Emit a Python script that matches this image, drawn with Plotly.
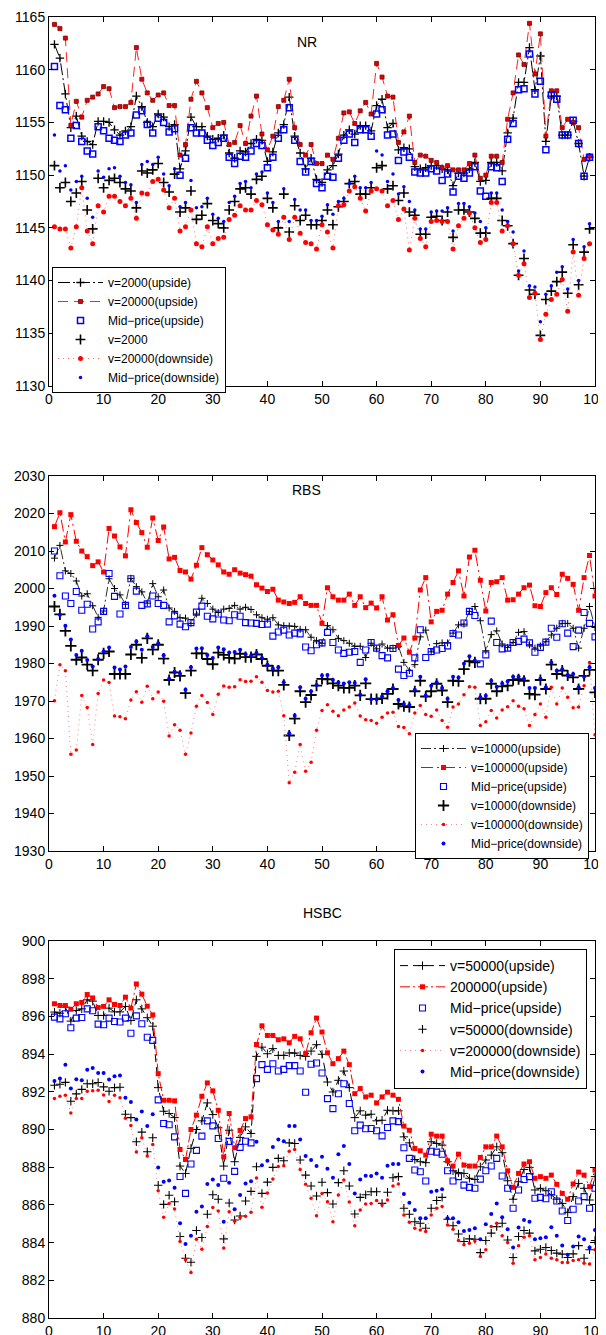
import plotly.graph_objects as go

# page body has an 8px default margin: the figure is sized/placed to compensate
OFF = 8
W, H = 606 - OFF, 1335 - OFF

# ---------------- NR ----------------
nr_x = list(range(1, 100))
nr_up_2000 = [1162.4, 1161.1, 1157.7, 1154.5, 1155.6, 1153.7, 1153.2, 1152.9, 1155.1, 1155.1,
              1155.0, 1154.3, 1153.8, 1154.2, 1154.6, 1157.5, 1156.5, 1155.0, 1154.6, 1155.8,
              1155.5, 1154.6, 1154.8, 1150.6, 1152.3, 1155.5, 1154.6, 1154.6, 1153.7, 1153.4,
              1153.5, 1153.8, 1152.1, 1151.6, 1152.3, 1152.2, 1153.0, 1153.4, 1153.3, 1151.3,
              1152.2, 1154.0, 1154.8, 1157.4, 1153.7, 1152.1, 1150.6, 1151.6, 1149.6, 1149.3,
              1150.5, 1150.9, 1152.0, 1153.8, 1154.3, 1153.9, 1154.7, 1154.7, 1154.2, 1156.6,
              1157.2, 1154.5, 1154.9, 1152.4, 1152.6, 1152.5, 1150.8, 1150.6, 1150.7, 1150.9,
              1150.9, 1150.6, 1150.5, 1149.0, 1150.2, 1150.2, 1150.6, 1151.2, 1149.4, 1149.5,
              1151.2, 1151.2, 1150.4, 1154.0, 1155.4, 1158.8, 1158.8, 1162.1, 1158.1, 1161.3,
              1153.2, 1157.5, 1157.5, 1153.8, 1153.8, 1155.1, 1153.0, 1149.9, 1151.7]
nr_up_20000 = [1164.3, 1163.9, 1163.0, 1154.7, 1157.0, 1155.5, 1157.1, 1157.4, 1157.7, 1158.4,
               1158.2, 1156.4, 1156.5, 1156.5, 1156.9, 1162.1, 1159.1, 1157.8, 1157.1, 1157.6,
               1157.8, 1156.6, 1156.6, 1151.9, 1152.9, 1157.2, 1158.9, 1157.8, 1156.4, 1154.5,
               1154.9, 1155.0, 1152.9, 1153.1, 1154.7, 1153.0, 1155.6, 1157.5, 1153.9, 1152.4,
               1153.7, 1156.5, 1157.1, 1159.1, 1154.5, 1152.9, 1151.9, 1152.9, 1151.1, 1151.1,
               1151.9, 1151.5, 1153.5, 1155.9, 1156.0, 1154.9, 1156.1, 1156.9, 1155.8, 1160.6,
               1159.3, 1157.5, 1157.4, 1153.1, 1154.1, 1155.6, 1151.2, 1151.9, 1151.8, 1151.4,
               1151.2, 1150.7, 1150.9, 1150.5, 1150.5, 1150.5, 1151.1, 1151.9, 1149.7, 1150.0,
               1151.8, 1151.8, 1151.2, 1155.3, 1157.8, 1161.4, 1160.5, 1164.4, 1159.6, 1163.4,
               1153.7, 1158.0, 1158.0, 1154.5, 1155.3, 1155.0, 1154.5, 1151.5, 1151.8]
nr_mid_up = [1160.3, 1156.6, 1156.2, 1153.5, 1154.7, 1153.2, 1152.3, 1152.0, 1154.6, 1154.2,
             1153.5, 1153.3, 1153.2, 1153.8, 1154.0, 1155.7, 1156.1, 1154.8, 1154.0, 1155.4,
             1155.0, 1154.1, 1154.4, 1150.0, 1151.6, 1154.5, 1154.0, 1154.0, 1153.3, 1152.8,
             1153.1, 1153.5, 1151.7, 1151.1, 1151.8, 1151.7, 1152.3, 1153.0, 1152.8, 1150.7,
             1151.7, 1153.5, 1154.3, 1156.4, 1153.3, 1151.3, 1150.3, 1151.3, 1149.2, 1148.8,
             1149.9, 1149.8, 1151.6, 1153.3, 1153.9, 1153.1, 1154.3, 1154.3, 1153.7, 1155.8,
             1156.2, 1153.8, 1153.9, 1151.4, 1152.2, 1151.7, 1150.3, 1150.2, 1150.2, 1150.6,
             1150.4, 1149.5, 1150.1, 1148.4, 1149.9, 1149.7, 1150.2, 1150.8, 1148.5, 1148.0,
             1150.8, 1150.7, 1149.4, 1153.4, 1154.9, 1158.1, 1158.2, 1161.5, 1157.7, 1158.9,
             1152.4, 1157.6, 1157.2, 1153.8, 1153.8, 1155.2, 1153.0, 1149.9, 1151.7]
nr_dn_2000 = [1150.9, 1148.8, 1149.3, 1147.5, 1148.3, 1149.4, 1146.7, 1144.9, 1149.7, 1148.8,
              1149.5, 1149.7, 1149.3, 1148.7, 1148.5, 1146.9, 1150.4, 1150.2, 1150.5, 1151.1,
              1149.3, 1148.4, 1150.1, 1146.5, 1146.9, 1148.5, 1145.8, 1146.2, 1147.3, 1145.7,
              1145.4, 1145.0, 1146.7, 1147.5, 1148.7, 1148.8, 1148.2, 1149.6, 1149.9, 1147.8,
              1146.9, 1145.0, 1148.2, 1144.6, 1147.1, 1145.7, 1146.2, 1145.3, 1145.3, 1145.7,
              1146.7, 1145.3, 1147.0, 1147.5, 1149.2, 1149.4, 1148.2, 1148.2, 1148.8, 1150.7,
              1150.9, 1148.7, 1149.0, 1147.6, 1148.3, 1146.5, 1146.2, 1144.4, 1144.4, 1146.0,
              1146.1, 1145.7, 1146.5, 1144.1, 1146.7, 1146.7, 1146.5, 1145.9, 1144.5, 1144.5,
              1147.8, 1147.8, 1145.7, 1145.2, 1143.5, 1140.5, 1142.1, 1139.1, 1138.7, 1134.8,
              1138.2, 1139.0, 1139.9, 1140.8, 1138.8, 1143.4, 1139.6, 1142.7, 1144.9]
nr_dn_20000 = [1145.1, 1144.9, 1144.9, 1143.1, 1145.1, 1148.8, 1144.7, 1143.5, 1147.1, 1146.5,
               1148.0, 1148.0, 1147.5, 1147.1, 1147.8, 1145.9, 1148.3, 1148.2, 1149.4, 1149.6,
               1148.6, 1146.9, 1147.8, 1144.7, 1145.1, 1146.7, 1143.5, 1143.2, 1145.1, 1143.5,
               1144.0, 1144.1, 1145.8, 1146.2, 1147.1, 1146.7, 1146.7, 1147.6, 1147.2, 1145.3,
               1144.8, 1144.4, 1146.0, 1143.9, 1146.0, 1144.5, 1143.6, 1143.5, 1143.0, 1145.3,
               1144.6, 1143.1, 1147.1, 1147.2, 1148.5, 1148.9, 1147.8, 1146.6, 1148.5, 1148.7,
               1148.5, 1147.1, 1147.6, 1145.8, 1146.8, 1142.9, 1145.9, 1144.0, 1143.2, 1145.6,
               1145.7, 1145.6, 1145.6, 1143.0, 1145.2, 1145.9, 1146.4, 1145.0, 1143.6, 1143.9,
               1147.4, 1147.4, 1144.7, 1145.2, 1143.5, 1140.5, 1141.6, 1138.4, 1138.8, 1134.4,
               1136.8, 1138.2, 1138.7, 1140.1, 1137.1, 1142.7, 1138.6, 1142.1, 1143.5]
nr_mid_dn = [1153.8, 1150.4, 1150.9, 1148.6, 1149.4, 1149.9, 1147.8, 1146.0, 1150.4, 1149.8,
             1150.6, 1150.7, 1149.9, 1149.3, 1149.1, 1147.4, 1151.0, 1151.3, 1151.0, 1151.7,
             1150.1, 1149.0, 1150.6, 1147.0, 1147.4, 1149.5, 1146.9, 1147.0, 1147.8, 1146.3,
             1145.9, 1145.6, 1147.4, 1148.0, 1149.2, 1149.4, 1148.8, 1150.1, 1150.3, 1148.3,
             1147.4, 1145.6, 1148.7, 1145.6, 1147.7, 1146.7, 1146.7, 1145.7, 1145.7, 1146.1,
             1147.2, 1146.3, 1147.5, 1147.8, 1149.2, 1149.9, 1148.8, 1148.8, 1149.3, 1152.3,
             1151.9, 1149.4, 1150.1, 1148.2, 1148.9, 1147.5, 1146.7, 1144.9, 1144.9, 1146.5,
             1146.6, 1146.6, 1146.9, 1144.7, 1147.3, 1147.3, 1147.0, 1146.4, 1145.6, 1145.0,
             1148.3, 1148.3, 1146.7, 1145.6, 1144.6, 1140.9, 1142.8, 1139.5, 1139.4, 1136.1,
             1138.7, 1139.5, 1140.8, 1141.3, 1139.2, 1143.9, 1140.0, 1143.2, 1145.4]

# ---------------- RBS ----------------
rbs_x = list(range(1, 101))
rbs_up_10000 = [2008.1, 2011.5, 2004.7, 2004.0, 2002.0, 1998.0, 1998.6, 1995.4, 1992.3, 1994.0,
                2002.6, 2000.0, 1998.3, 1995.8, 2002.7, 2000.5, 1999.1, 1996.1, 2001.3, 1997.8,
                1999.6, 1994.8, 1993.9, 1992.2, 1992.1, 1990.7, 1993.2, 1997.4, 1996.0, 1994.5,
                1993.6, 1994.5, 1994.7, 1995.5, 1994.5, 1995.0, 1994.4, 1993.0, 1992.2, 1991.8,
                1992.2, 1990.3, 1990.1, 1990.0, 1989.9, 1989.1, 1989.0, 1987.0, 1986.1, 1985.4,
                1990.1, 1989.0, 1986.7, 1986.1, 1985.4, 1984.6, 1984.6, 1981.6, 1985.4, 1983.9,
                1985.2, 1984.1, 1984.1, 1984.6, 1980.3, 1978.1, 1979.7, 1987.1, 1988.9, 1983.1,
                1985.3, 1985.5, 1985.5, 1988.1, 1990.3, 1990.5, 1993.9, 1995.2, 1991.4, 1983.4,
                1987.7, 1988.7, 1985.2, 1984.3, 1985.6, 1988.3, 1988.5, 1985.0, 1984.1, 1984.7,
                1985.8, 1987.6, 1989.4, 1990.7, 1990.7, 1989.4, 1984.1, 1989.4, 1995.2, 1989.6]
rbs_up_100000 = [2016.5, 2020.2, 2012.4, 2019.7, 2012.6, 2010.0, 2008.5, 2006.1, 2007.1, 2004.4,
                 2016.0, 2014.0, 2011.1, 2008.7, 2021.0, 2017.6, 2014.9, 2011.0, 2018.8, 2012.8,
                 2016.4, 2007.9, 2008.3, 2004.8, 2004.4, 2002.5, 2006.2, 2010.9, 2009.0, 2007.6,
                 2006.3, 2004.4, 2003.8, 2005.0, 2004.1, 2003.7, 2003.3, 2001.0, 2000.1, 1999.2,
                 1999.8, 1996.9, 1996.4, 1996.0, 1996.3, 1997.8, 1996.0, 1995.5, 1995.5, 1990.7,
                 2000.2, 1997.8, 1996.9, 1996.9, 1998.5, 1995.5, 1997.8, 1994.9, 1996.1, 1994.8,
                 1997.8, 1991.6, 1993.0, 1984.8, 1986.8, 1983.0, 1986.8, 1999.6, 2002.9, 1991.1,
                 1993.9, 1994.2, 1998.5, 2001.6, 2004.7, 1998.0, 2008.4, 2010.2, 2002.2, 1994.0,
                 2001.6, 2001.8, 2002.9, 1996.9, 1997.0, 1998.5, 2000.2, 2000.9, 1995.4, 1995.2,
                 1998.9, 2000.2, 1998.4, 2003.8, 2002.7, 2001.1, 1994.2, 2002.9, 2008.8, 1998.0]
rbs_mid_up = [2010.0, 2003.4, 1998.0, 1996.0, 1999.2, 1994.2, 1995.8, 1989.2, 1991.1, 1993.9,
              2004.0, 1997.9, 1993.2, 1995.5, 2002.6, 1999.3, 1995.5, 1995.9, 1998.0, 1996.0,
              1995.5, 1991.1, 1992.7, 1990.5, 1989.8, 1990.9, 1993.7, 1995.3, 1992.6, 1991.9,
              1993.2, 1991.6, 1991.4, 1993.0, 1992.6, 1990.9, 1990.8, 1990.7, 1990.4, 1990.5,
              1987.3, 1988.4, 1988.9, 1987.6, 1988.1, 1987.9, 1984.4, 1983.4, 1985.0, 1985.5,
              1988.3, 1985.6, 1983.6, 1982.7, 1983.0, 1983.2, 1980.3, 1983.6, 1985.6, 1984.1,
              1982.1, 1981.5, 1984.0, 1978.5, 1976.8, 1977.4, 1981.5, 1989.0, 1981.6, 1983.2,
              1983.6, 1984.0, 1984.7, 1988.0, 1987.6, 1990.8, 1993.9, 1992.8, 1979.9, 1982.3,
              1991.3, 1985.6, 1983.9, 1984.1, 1985.6, 1985.9, 1986.5, 1985.5, 1983.0, 1984.3,
              1985.7, 1989.4, 1987.0, 1990.6, 1988.1, 1984.5, 1988.9, 1993.6, 1990.7, 1987.1]
rbs_dn_10000 = [1995.2, 1993.1, 1988.7, 1984.7, 1981.0, 1981.6, 1979.7, 1978.1, 1981.0, 1982.7,
                1983.2, 1977.2, 1977.2, 1977.2, 1982.4, 1985.0, 1981.5, 1986.7, 1983.7, 1985.0,
                1981.3, 1975.6, 1977.6, 1976.7, 1972.1, 1978.1, 1982.7, 1982.7, 1981.2, 1979.8,
                1982.9, 1982.3, 1981.5, 1981.3, 1982.6, 1981.7, 1981.7, 1982.4, 1981.2, 1979.4,
                1978.1, 1978.1, 1974.3, 1960.8, 1965.3, 1972.6, 1969.7, 1971.6, 1974.1, 1975.9,
                1975.8, 1974.7, 1974.1, 1973.5, 1973.5, 1974.1, 1971.5, 1974.7, 1970.5, 1970.5,
                1970.7, 1971.9, 1973.2, 1969.2, 1968.6, 1968.4, 1972.6, 1975.4, 1971.2, 1972.6,
                1974.6, 1972.8, 1969.7, 1975.4, 1975.3, 1978.5, 1980.6, 1980.3, 1970.6, 1970.6,
                1974.6, 1972.6, 1973.9, 1974.1, 1975.6, 1975.8, 1975.4, 1971.9, 1971.7, 1975.6,
                1973.2, 1979.7, 1977.2, 1978.1, 1976.8, 1976.3, 1973.2, 1976.7, 1978.3, 1972.3]
rbs_dn_100000 = [1970.1, 1979.7, 1978.1, 1955.8, 1956.9, 1971.5, 1968.3, 1958.4, 1972.0, 1975.6,
                 1974.9, 1966.0, 1965.8, 1965.3, 1970.3, 1972.5, 1969.7, 1973.9, 1970.6, 1972.4,
                 1969.9, 1960.7, 1963.7, 1962.2, 1955.8, 1961.5, 1968.6, 1971.5, 1969.6, 1966.4,
                 1971.8, 1974.0, 1973.7, 1973.8, 1975.7, 1975.2, 1975.3, 1976.5, 1975.0, 1972.8,
                 1972.4, 1972.6, 1966.1, 1948.2, 1951.0, 1958.4, 1951.3, 1953.7, 1962.2, 1967.5,
                 1969.0, 1967.3, 1966.1, 1967.6, 1968.4, 1969.5, 1966.0, 1965.0, 1964.8, 1964.1,
                 1965.7, 1966.8, 1967.0, 1963.2, 1962.9, 1961.3, 1966.8, 1968.8, 1966.4, 1965.9,
                 1967.6, 1964.8, 1963.0, 1968.4, 1969.2, 1971.7, 1973.8, 1973.7, 1963.5, 1964.5,
                 1967.5, 1965.5, 1967.6, 1968.5, 1970.1, 1968.6, 1967.9, 1963.5, 1966.4, 1969.2,
                 1965.7, 1973.7, 1969.2, 1973.5, 1971.0, 1968.2, 1968.4, 1974.1, 1980.3, 1961.0]
rbs_mid_dn = [1998.1, 1993.0, 1990.1, 1986.4, 1982.3, 1983.4, 1980.9, 1979.2, 1981.2, 1983.2,
              1984.3, 1978.9, 1978.4, 1979.2, 1984.4, 1985.9, 1983.7, 1987.3, 1984.4, 1985.4,
              1982.2, 1975.9, 1977.8, 1977.3, 1973.0, 1979.0, 1984.0, 1984.1, 1982.3, 1981.5,
              1984.3, 1983.8, 1982.9, 1983.1, 1983.7, 1982.5, 1982.1, 1982.8, 1981.5, 1979.7,
              1978.7, 1979.0, 1975.0, 1961.4, 1966.1, 1973.7, 1970.6, 1972.6, 1974.3, 1976.8,
              1976.9, 1975.6, 1974.9, 1974.7, 1975.0, 1974.8, 1971.7, 1975.8, 1970.5, 1970.5,
              1971.2, 1972.6, 1973.5, 1970.3, 1969.2, 1968.9, 1973.0, 1976.5, 1971.5, 1974.1,
              1975.0, 1973.5, 1970.6, 1976.5, 1976.3, 1979.9, 1981.9, 1980.8, 1971.0, 1971.4,
              1975.4, 1973.8, 1974.7, 1975.3, 1976.5, 1976.5, 1975.9, 1973.5, 1973.5, 1975.9,
              1973.7, 1980.3, 1978.1, 1978.5, 1976.9, 1977.2, 1973.7, 1976.5, 1979.0, 1973.5]

# ---------------- HSBC ----------------
hsbc_x = list(range(1, 101))
hsbc_up_50000 = [896.23, 896.17, 896.49, 895.75, 896.31, 896.40, 896.88, 896.81, 896.05, 896.05,
                 896.44, 896.24, 896.24, 896.53, 895.78, 896.88, 896.40, 895.93, 895.48, 892.22,
                 890.97, 890.85, 890.63, 888.06, 887.67, 889.00, 890.00, 890.46, 891.41, 890.79,
                 890.09, 888.06, 889.96, 888.29, 889.58, 890.14, 889.79, 893.88, 894.37, 894.02,
                 894.29, 893.93, 893.93, 894.06, 894.06, 893.93, 893.88, 894.16, 894.50, 893.99,
                 892.52, 891.99, 892.61, 893.10, 892.22, 890.63, 890.99, 890.76, 890.81, 890.46,
                 890.49, 891.02, 890.99, 890.99, 889.61, 889.29, 888.41, 888.29, 888.24, 889.35,
                 889.26, 889.17, 888.29, 887.81, 887.71, 887.67, 887.41, 887.35, 888.02, 888.38,
                 888.64, 889.08, 888.77, 887.28, 886.30, 887.23, 887.88, 887.99, 886.79, 886.88,
                 886.75, 886.53, 886.30, 886.08, 885.59, 886.44, 887.14, 886.88, 886.26, 887.50]
hsbc_up_200000 = [896.67, 896.58, 896.58, 896.38, 896.67, 896.74, 897.16, 896.98, 896.47, 896.53,
                  896.88, 896.63, 896.58, 897.02, 896.44, 897.72, 897.18, 896.54, 896.08, 892.96,
                  891.55, 891.55, 891.52, 888.94, 888.41, 890.00, 890.76, 891.76, 892.47, 892.05,
                  891.02, 888.55, 890.85, 889.03, 889.95, 890.58, 890.67, 894.51, 895.50, 894.99,
                  894.99, 894.76, 894.81, 894.60, 894.94, 894.81, 894.02, 895.13, 895.91, 895.17,
                  894.07, 893.49, 893.76, 894.16, 893.44, 891.90, 892.17, 891.73, 891.82, 891.41,
                  891.73, 891.98, 891.82, 891.60, 890.18, 889.96, 888.99, 888.87, 888.64, 889.75,
                  889.65, 889.65, 888.34, 888.06, 888.69, 888.11, 888.06, 888.06, 888.52, 889.08,
                  889.08, 889.65, 889.08, 887.81, 886.93, 887.67, 888.17, 888.29, 887.41, 887.50,
                  887.41, 887.58, 887.09, 886.61, 886.30, 887.11, 887.74, 887.58, 886.97, 887.85]
hsbc_mid_up = [895.96, 895.87, 896.14, 895.40, 895.91, 895.94, 896.40, 896.30, 895.59, 895.56,
               895.91, 895.73, 895.70, 895.91, 895.11, 896.03, 895.61, 894.89, 894.73, 891.57,
               890.32, 890.25, 889.61, 887.51, 886.61, 888.17, 888.89, 889.65, 890.46, 890.19,
               889.52, 887.41, 889.37, 887.78, 889.05, 889.38, 889.29, 892.70, 893.44, 893.19,
               893.49, 893.10, 893.19, 893.39, 893.39, 893.10, 891.98, 893.46, 893.53, 893.00,
               891.64, 891.11, 891.90, 892.43, 891.38, 889.93, 890.23, 890.04, 890.05, 889.93,
               889.66, 890.11, 890.46, 890.42, 889.03, 888.47, 887.85, 887.76, 887.27, 888.85,
               888.80, 888.69, 887.81, 887.27, 887.50, 887.05, 886.93, 886.88, 887.37, 887.81,
               888.06, 888.47, 887.53, 886.88, 885.82, 886.79, 887.35, 887.50, 886.35, 886.40,
               886.33, 886.70, 886.21, 885.68, 885.17, 885.77, 886.21, 886.44, 885.82, 886.88]
hsbc_dn_50000 = [892.35, 892.40, 892.50, 891.50, 891.89, 892.13, 892.43, 892.43, 892.49, 892.26,
                 892.03, 892.22, 892.24, 890.81, 890.63, 889.35, 889.86, 888.82, 889.56, 887.04,
                 886.03, 886.51, 886.17, 884.32, 883.17, 882.96, 884.64, 884.27, 885.50, 886.54,
                 886.30, 884.20, 886.10, 885.20, 885.41, 886.21, 886.72, 888.02, 886.61, 887.21,
                 887.99, 888.47, 888.34, 889.29, 889.26, 888.38, 887.58, 887.00, 886.47, 887.20,
                 886.65, 886.05, 887.18, 887.81, 887.00, 885.52, 886.40, 886.54, 886.70, 886.70,
                 886.08, 886.67, 887.44, 887.50, 885.82, 885.50, 885.11, 885.03, 884.76, 885.82,
                 886.23, 886.40, 885.24, 884.89, 884.46, 884.06, 884.20, 884.18, 883.47, 884.11,
                 884.50, 884.85, 885.03, 884.14, 883.21, 884.32, 884.64, 884.50, 883.56, 883.65,
                 883.74, 883.58, 883.44, 883.39, 883.21, 883.40, 883.84, 883.17, 883.62, 884.11]
hsbc_dn_200000 = [891.64, 891.76, 891.82, 890.88, 891.64, 891.64, 892.03, 892.05, 892.08, 891.83,
                  891.48, 891.82, 891.69, 890.60, 890.21, 888.80, 889.56, 888.59, 889.21, 886.75,
                  885.34, 886.08, 885.78, 884.06, 883.09, 882.42, 884.18, 883.65, 884.85, 885.86,
                  885.68, 883.72, 885.63, 885.13, 885.33, 885.40, 885.61, 887.43, 885.87, 886.63,
                  887.37, 888.04, 888.08, 888.85, 888.94, 887.88, 887.09, 886.35, 885.43, 886.61,
                  886.17, 885.11, 886.53, 887.32, 886.16, 884.89, 885.73, 886.05, 886.08, 886.23,
                  886.00, 886.26, 887.00, 887.11, 885.47, 885.08, 884.76, 884.67, 884.59, 885.47,
                  885.82, 885.91, 884.94, 884.71, 884.11, 883.88, 883.97, 884.09, 883.26, 883.62,
                  884.85, 885.03, 884.36, 884.00, 882.91, 883.83, 884.29, 884.36, 883.09, 883.21,
                  883.39, 883.17, 883.09, 882.95, 882.95, 883.05, 883.09, 882.91, 882.86, 883.62]
hsbc_mid_dn = [892.57, 892.70, 893.44, 892.17, 892.66, 892.61, 893.17, 893.26, 893.00, 893.00,
               892.65, 892.82, 892.87, 891.68, 891.46, 890.53, 890.95, 890.18, 890.81, 887.99,
               887.23, 887.30, 886.91, 885.03, 883.92, 884.36, 885.64, 885.91, 887.11, 887.35,
               887.05, 885.11, 887.18, 885.77, 886.53, 887.14, 887.25, 889.35, 888.10, 888.34,
               889.07, 889.47, 889.38, 890.18, 890.18, 889.47, 888.59, 888.38, 888.06, 888.55,
               887.92, 887.44, 888.69, 889.12, 888.17, 886.61, 887.35, 887.55, 887.53, 887.67,
               887.44, 888.08, 888.17, 888.17, 886.58, 886.12, 885.73, 885.29, 885.29, 886.70,
               886.75, 886.83, 885.29, 885.29, 885.08, 884.62, 884.67, 884.76, 884.18, 884.97,
               885.52, 886.08, 885.34, 884.71, 883.74, 884.80, 885.20, 885.11, 884.18, 884.23,
               884.29, 884.81, 884.36, 883.84, 883.35, 883.79, 884.32, 884.18, 883.74, 884.67]

x_ticks = [0, 10, 20, 30, 40, 50, 60, 70, 80, 90, 100]
nr_yticks = [1130, 1135, 1140, 1145, 1150, 1155, 1160, 1165]
rbs_yticks = [1930, 1940, 1950, 1960, 1970, 1980, 1990, 2000, 2010, 2020, 2030]
hsbc_yticks = [880, 882, 884, 886, 888, 890, 892, 894, 896, 898, 900]

FONT = "Liberation Sans, Arial, Helvetica, sans-serif"
fig = go.Figure()

def add(x, y, name, ax, leg, mode, line=None, marker=None):
    fig.add_trace(go.Scatter(
        x=x, y=y, name=name, mode=mode,
        line=line or dict(width=1), marker=marker or dict(),
        xaxis="x" + ("" if ax == 1 else str(ax)),
        yaxis="y" + ("" if ax == 1 else str(ax)),
        legend=leg,
    ))

def cross(size, width, color="black"):
    return dict(symbol="cross-thin", size=size, color=color, line=dict(width=width, color=color))

# NR
add(nr_x, nr_up_2000, "v=2000(upside)", 1, "legend", "lines+markers",
    dict(color="black", width=1, dash="12px,3px,2px,3px"), cross(6, 1.3))
add(nr_x, nr_up_20000, "v=20000(upside)", 1, "legend", "lines+markers",
    dict(color="#ff2020", width=1, dash="10px,6px"),
    dict(symbol="square", size=4, color="#e00000", line=dict(width=0.8, color="#800000")))
add(nr_x, nr_mid_up, "Mid−price(upside)", 1, "legend", "markers", None,
    dict(symbol="square-open", size=6, color="#0000ff", line=dict(width=1.5, color="#0000ff")))
add(nr_x, nr_dn_2000, "v=2000", 1, "legend", "markers", None, cross(7, 1.6))
add(nr_x, nr_dn_20000, "v=20000(downside)", 1, "legend", "lines+markers",
    dict(color="#ff7070", width=1, dash="1px,4px"),
    dict(symbol="circle", size=5, color="#ff0000"))
add(nr_x, nr_mid_dn, "Mid−price(downside)", 1, "legend", "markers", None,
    dict(symbol="circle", size=3.5, color="#0000ff"))

# RBS
add(rbs_x, rbs_up_10000, "v=10000(upside)", 2, "legend2", "lines+markers",
    dict(color="#303030", width=1, dash="10px,3px,2px,3px"), cross(5, 1))
add(rbs_x, rbs_up_100000, "v=100000(upside)", 2, "legend2", "lines+markers",
    dict(color="#ff0000", width=1, dash="12px,4px,2px,4px"),
    dict(symbol="square", size=5, color="#ff0000"))
add(rbs_x, rbs_mid_up, "Mid−price(upside)", 2, "legend2", "markers", None,
    dict(symbol="square-open", size=6, color="#0000ff", line=dict(width=1.1, color="#0000ff")))
add(rbs_x, rbs_dn_10000, "v=10000(downside)", 2, "legend2", "markers", None, cross(8, 1.8))
add(rbs_x, rbs_dn_100000, "v=100000(downside)", 2, "legend2", "lines+markers",
    dict(color="#ff8080", width=1, dash="1px,4px"),
    dict(symbol="circle", size=3.5, color="#ff0000"))
add(rbs_x, rbs_mid_dn, "Mid−price(downside)", 2, "legend2", "markers", None,
    dict(symbol="circle", size=4, color="#0000ff"))

# HSBC
add(hsbc_x, hsbc_up_50000, "v=50000(upside)", 3, "legend3", "lines+markers",
    dict(color="black", width=1, dash="8px,5px"), cross(6, 1))
add(hsbc_x, hsbc_up_200000, "200000(upside)", 3, "legend3", "lines+markers",
    dict(color="#ff0000", width=1, dash="10px,3px,2px,3px"),
    dict(symbol="square", size=5, color="#ff0000"))
add(hsbc_x, hsbc_mid_up, "Mid−price(upside)", 3, "legend3", "markers", None,
    dict(symbol="square-open", size=6, color="#0000ff", line=dict(width=1.1, color="#0000ff")))
add(hsbc_x, hsbc_dn_50000, "v=50000(downside)", 3, "legend3", "markers", None, cross(6, 1.1))
add(hsbc_x, hsbc_dn_200000, "v=200000(downside)", 3, "legend3", "lines+markers",
    dict(color="#ff8080", width=1, dash="1px,4px"),
    dict(symbol="circle", size=3.5, color="#ff0000"))
add(hsbc_x, hsbc_mid_dn, "Mid−price(downside)", 3, "legend3", "markers", None,
    dict(symbol="circle", size=4, color="#0000ff"))

# reference-picture pixel -> paper fraction (figure sits 8px right/down in the page)
def px_x(p):
    return (p - OFF) / W

def px_y(p):
    return 1 - (p - OFF) / H

xdom = [px_x(49), px_x(595)]
panels = [(17, 386, [1130, 1165], nr_yticks),
          (476, 851, [1930, 2030], rbs_yticks),
          (941, 1318, [880, 900], hsbc_yticks)]

axis_common = dict(showline=True, linecolor="black", linewidth=1, mirror="ticks",
                   ticks="inside", ticklen=5, tickcolor="black", tickwidth=1,
                   showgrid=False, zeroline=False, automargin=False,
                   ticklabeloverflow="allow",
                   tickfont=dict(family=FONT, size=14, color="black"))
lay = {}
for i, (top, bot, yr, yt) in enumerate(panels, start=1):
    sfx = "" if i == 1 else str(i)
    lay["xaxis" + sfx] = dict(axis_common, domain=xdom, range=[0, 100], tickvals=x_ticks,
                              anchor="y" + sfx)
    lay["yaxis" + sfx] = dict(axis_common, domain=[px_y(bot), px_y(top)], range=yr,
                              tickvals=yt, anchor="x" + sfx)

leg_common = dict(xanchor="left", yanchor="top", bgcolor="white", bordercolor="black",
                  borderwidth=1, itemwidth=45, tracegroupgap=0, traceorder="normal")
fig.update_layout(
    width=W, height=H, template="none",
    paper_bgcolor="white", plot_bgcolor="white",
    margin=dict(l=0, r=0, t=0, b=0),
    font=dict(family=FONT, color="black"),
    showlegend=True,
    legend=dict(leg_common, x=px_x(52), y=px_y(267), font=dict(family=FONT, size=12)),
    legend2=dict(leg_common, x=px_x(415), y=px_y(733), font=dict(family=FONT, size=12)),
    legend3=dict(leg_common, x=px_x(394), y=px_y(949), font=dict(family=FONT, size=14)),
    annotations=[
        dict(text="NR", x=px_x(307), y=px_y(32), xref="paper", yref="paper",
             showarrow=False, font=dict(family=FONT, size=14)),
        dict(text="RBS", x=px_x(306), y=px_y(490), xref="paper", yref="paper",
             showarrow=False, font=dict(family=FONT, size=14)),
        dict(text="HSBC", x=px_x(322), y=px_y(923), xref="paper", yref="paper",
             showarrow=False, font=dict(family=FONT, size=14)),
    ],
    **lay,
)

fig.write_html("out.html")
